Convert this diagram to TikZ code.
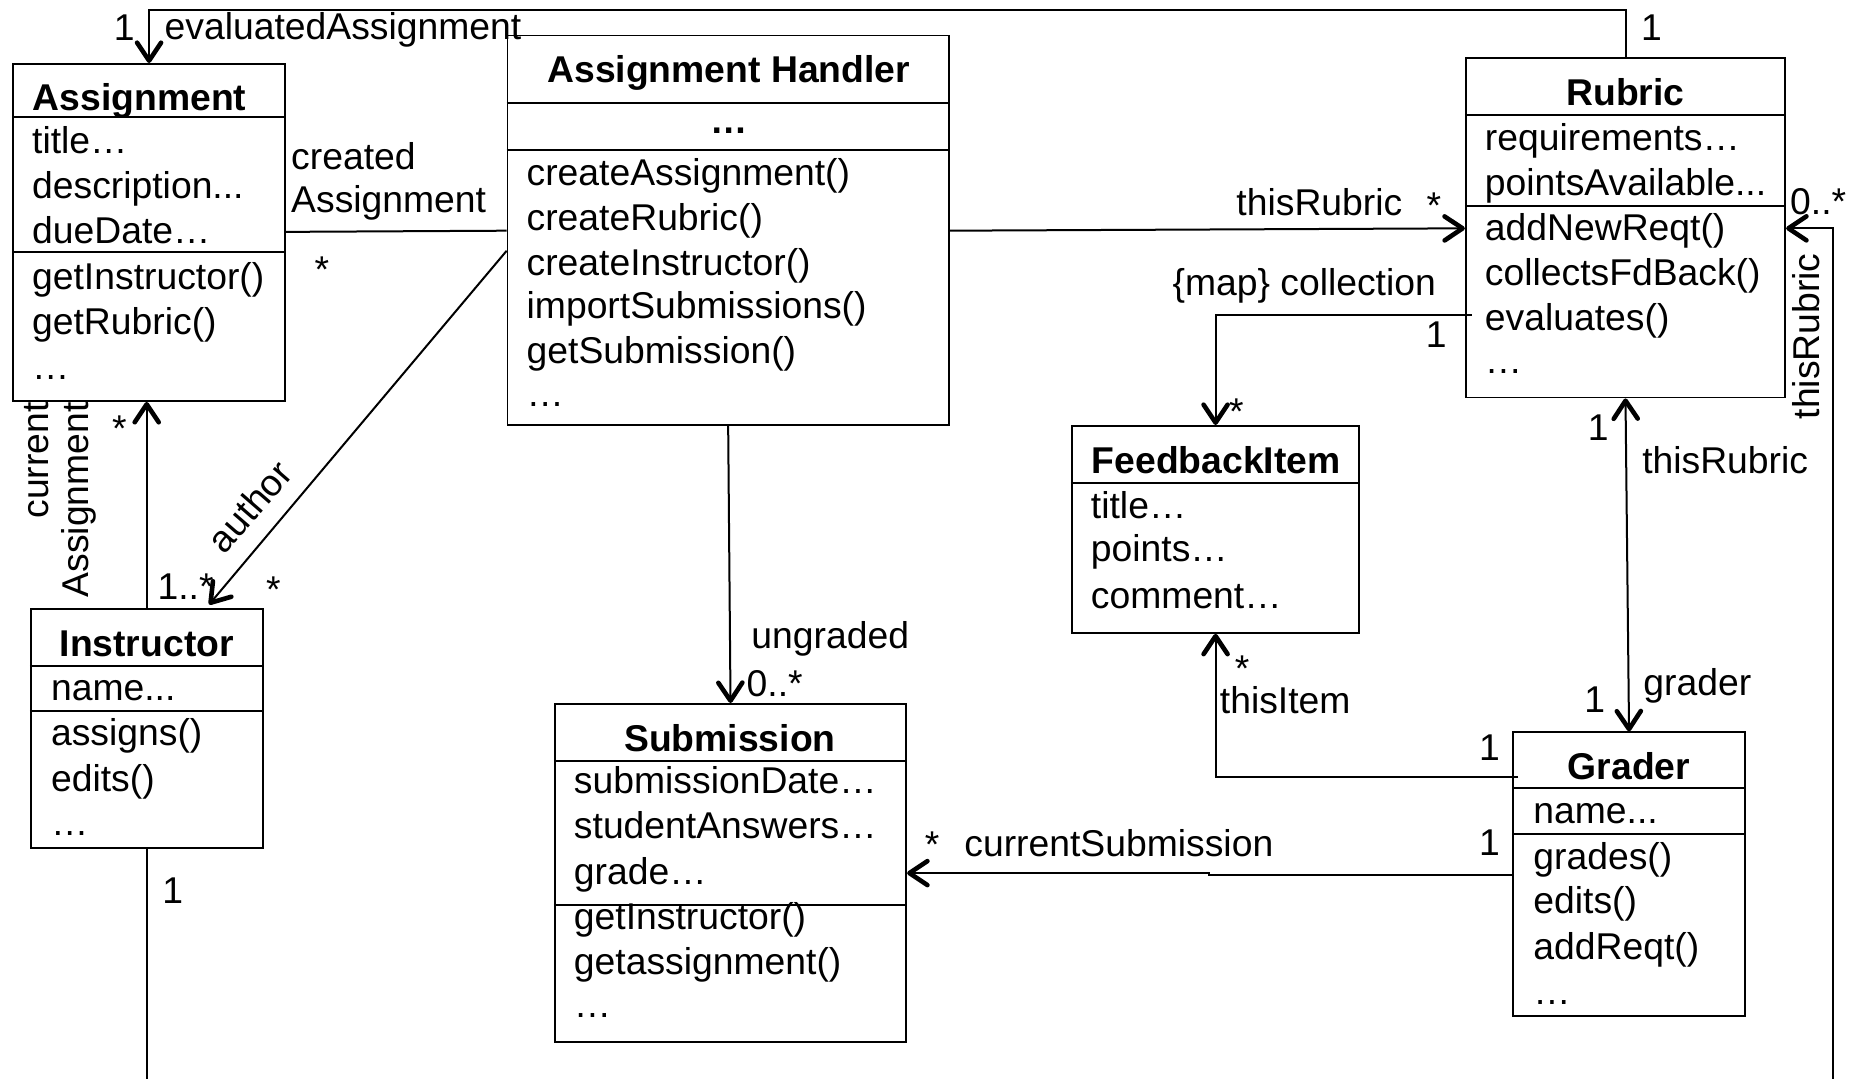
\documentclass[tikz,border=0pt]{standalone}
\usepackage{fontspec}
\setmainfont{Liberation Sans}
\usetikzlibrary{arrows.meta,fit,calc}
\newcommand\umlfont{\fontsize{37.3}{44.8}\selectfont}
\begin{document}
\begin{tikzpicture}[x=1.183pt, y=-1.183pt,
  txt/.style={font=\umlfont, inner sep=0pt},
  member/.style={txt, anchor=base west},
  cname/.style={txt, font=\umlfont\bfseries, anchor=base},
  lbl/.style={txt, anchor=base west},
  mult/.style={txt, anchor=base},
  vlbl/.style={txt, rotate=90, anchor=base east},
  classbox/.style={draw, line width=1.8pt, inner sep=0pt},
  sep/.style={line width=1.8pt},
  link/.style={line width=2pt},
  barb/.tip={Straight Barb[length=18pt, width=24pt, line width=4.6pt 0, round]},
  nav/.style={link, -barb},
  navboth/.style={link, barb-barb},
]
% canvas
\fill[white] (0,0) rectangle (1568,912);

% ---------- Assignment ----------
\node[classbox, fit={(11,54) (241,339)}] (asg) {};
\draw[sep] (asg.west |- 0,99) -- (asg.east |- 0,99);
\draw[sep] (asg.west |- 0,213) -- (asg.east |- 0,213);
\node[cname] (asgT) at (118,93) {Assignment};
\node[member] (asgA1) at (27,130) {title…};
\node[member] (asgA2) at (27,168) {description...};
\node[member] (asgA3) at (27,206) {dueDate…};
\node[member] (asgM1) at (27,245) {getInstructor()};
\node[member] (asgM2) at (27,283) {getRubric()};
\node[member] (asgM3) at (27,321) {…};

% ---------- Assignment Handler ----------
\node[classbox, fit={(429,30) (802,359)}] (hdl) {};
\draw[sep] (hdl.west |- 0,87) -- (hdl.east |- 0,87);
\draw[sep] (hdl.west |- 0,127) -- (hdl.east |- 0,127);
\node[cname] (hdlT) at (616,70) {Assignment Handler};
\node[cname] (hdlA) at (616,113) {…};
\node[member] (hdlM1) at (445,157) {createAssignment()};
\node[member] (hdlM2) at (445,195) {createRubric()};
\node[member] (hdlM3) at (445,233) {createInstructor()};
\node[member] (hdlM4) at (445,269) {importSubmissions()};
\node[member] (hdlM5) at (445,307) {getSubmission()};
\node[member] (hdlM6) at (445,344) {…};

% ---------- Rubric ----------
\node[classbox, fit={(1239,49) (1509,336)}] (rub) {};
\draw[sep] (rub.west |- 0,97) -- (rub.east |- 0,97);
\draw[sep] (rub.west |- 0,174) -- (rub.east |- 0,174);
\node[cname] (rubT) at (1374,89) {Rubric};
\node[member] (rubA1) at (1255,127) {requirements…};
\node[member] (rubA2) at (1255,165) {pointsAvailable...};
\node[member] (rubM1) at (1255,203) {addNewReqt()};
\node[member] (rubM2) at (1255,241) {collectsFdBack()};
\node[member] (rubM3) at (1255,279) {evaluates()};
\node[member] (rubM4) at (1255,316) {…};

% ---------- FeedbackItem ----------
\node[classbox, fit={(906,360) (1149,535)}] (fbi) {};
\draw[sep] (fbi.west |- 0,408) -- (fbi.east |- 0,408);
\node[cname] (fbiT) at (1028,400) {FeedbackItem};
\node[member] (fbiA1) at (922,438) {title…};
\node[member] (fbiA2) at (922,475) {points…};
\node[member] (fbiA3) at (922,514) {comment…};

% ---------- Instructor ----------
\node[classbox, fit={(26,515) (222,717)}] (ins) {};
\draw[sep] (ins.west |- 0,563) -- (ins.east |- 0,563);
\draw[sep] (ins.west |- 0,601) -- (ins.east |- 0,601);
\node[cname] (insT) at (124,555) {Instructor};
\node[member] (insA1) at (43,592) {name...};
\node[member] (insM1) at (43,630) {assigns()};
\node[member] (insM2) at (43,669) {edits()};
\node[member] (insM3) at (43,706) {…};

% ---------- Submission ----------
\node[classbox, fit={(469,595) (766,881)}] (sub) {};
\draw[sep] (sub.west |- 0,643) -- (sub.east |- 0,643);
\draw[sep] (sub.west |- 0,765) -- (sub.east |- 0,765);
\node[cname] (subT) at (617,635) {Submission};
\node[member] (subA1) at (485,671) {submissionDate…};
\node[member] (subA2) at (485,709) {studentAnswers…};
\node[member] (subA3) at (485,748) {grade…};
\node[member] (subM1) at (485,786) {getInstructor()};
\node[member] (subM2) at (485,824) {getassignment()};
\node[member] (subM3) at (485,860) {…};

% ---------- Grader ----------
\node[classbox, fit={(1279,619) (1475,859)}] (grd) {};
\draw[sep] (grd.west |- 0,666) -- (grd.east |- 0,666);
\draw[sep] (grd.west |- 0,705) -- (grd.east |- 0,705);
\node[cname] (grdT) at (1377,659) {Grader};
\node[member] (grdA1) at (1296,696) {name...};
\node[member] (grdM1) at (1296,735) {grades()};
\node[member] (grdM2) at (1296,772) {edits()};
\node[member] (grdM3) at (1296,811) {addReqt()};
\node[member] (grdM4) at (1296,849) {…};

% ---------- free ends and bends ----------
\coordinate (ibot) at (124,912);
\coordinate (rbot) at (1549,912);
\coordinate (evtop) at (0,8.5);
\coordinate (csbend) at (1022,0);

% ---------- associations ----------
% evaluatedAssignment
\draw[nav] (rub.north) -- (rub.north |- evtop) -- (asg.north |- evtop) -- (asg.north);
\node[mult] (m1) at (105,34) {1};
\node[lbl] (l1) at (139,33) {evaluatedAssignment};
\node[mult] (m2) at (1396,34) {1};

% createdAssignment
\draw[link] (asg.east |- 0,196) -- (hdl.west |- 0,195);
\node[lbl] (l2a) at (246,143) {created};
\node[lbl] (l2b) at (246,180) {Assignment};
\node[mult] (m3) at (272,239) {*};

% author
\draw[nav, shorten >=5pt] (hdl.west |- 0,212) -- (ins.north -| 174,0);
\node[txt, rotate=49] (l3) at (211,428) {author};
\node[mult] (m4) at (231,509) {*};
\node[lbl] (m5) at (133,507) {1..*};

% currentAssignment
\draw[nav] (ins.north) -- (ins.north |- asg.south);
\node[vlbl] (l4a) at (41,340) {current};
\node[vlbl] (l4b) at (75,340) {Assignment};
\node[mult] (m6) at (101,373) {*};

% thisRubric (handler -> rubric)
\draw[nav] (hdl.east |- 0,195) -- (rub.west |- 0,193);
\node[lbl] (l5) at (1045,182) {thisRubric};
\node[mult] (m7) at (1212,185) {*};

% {map} collection
\draw[nav] ($(rub.west |- 0,266)+(6,0)$) -| (fbi.north);
\node[lbl] (l6) at (991,250) {\{map\} collection};
\node[mult] (m8) at (1214,294) {1};
\node[mult] (m9) at (1045,359) {*};

% ungraded
\draw[nav] (hdl.south) -- (sub.north);
\node[lbl] (l7) at (635,548) {ungraded};
\node[lbl] (m10) at (631,589) {0..*};

% thisRubric / grader
\draw[navboth] (rub.south) -- (grd.north);
\node[mult] (m11) at (1351,372) {1};
\node[lbl] (l8) at (1388,400) {thisRubric};
\node[mult] (m12) at (1348,602) {1};
\node[lbl] (l9) at (1389,588) {grader};

% thisItem
\draw[nav] ($(grd.west |- 0,657)+(5,0)$) -| (fbi.south);
\node[mult] (m13) at (1050,576) {*};
\node[lbl] (l10) at (1031,603) {thisItem};
\node[mult] (m14) at (1259,643) {1};

% currentSubmission
\draw[nav] (grd.west |- 0,740) -- (csbend |- 0,740) -- (csbend |- 0,738) -- (sub.east |- 0,738);
\node[mult] (m15) at (788,725) {*};
\node[lbl] (l11) at (815,724) {currentSubmission};
\node[mult] (m16) at (1259,723) {1};

% thisRubric (right side)
\draw[nav] (rbot) |- (rub.east |- 0,193);
\node[lbl] (m17) at (1513,181) {0..*};
\node[vlbl] (l12) at (1538,214) {thisRubric};

% instructor, lower end
\draw[link] (ins.south) -- (ibot);
\node[mult] (m18) at (146,764) {1};
\end{tikzpicture}
\end{document}
